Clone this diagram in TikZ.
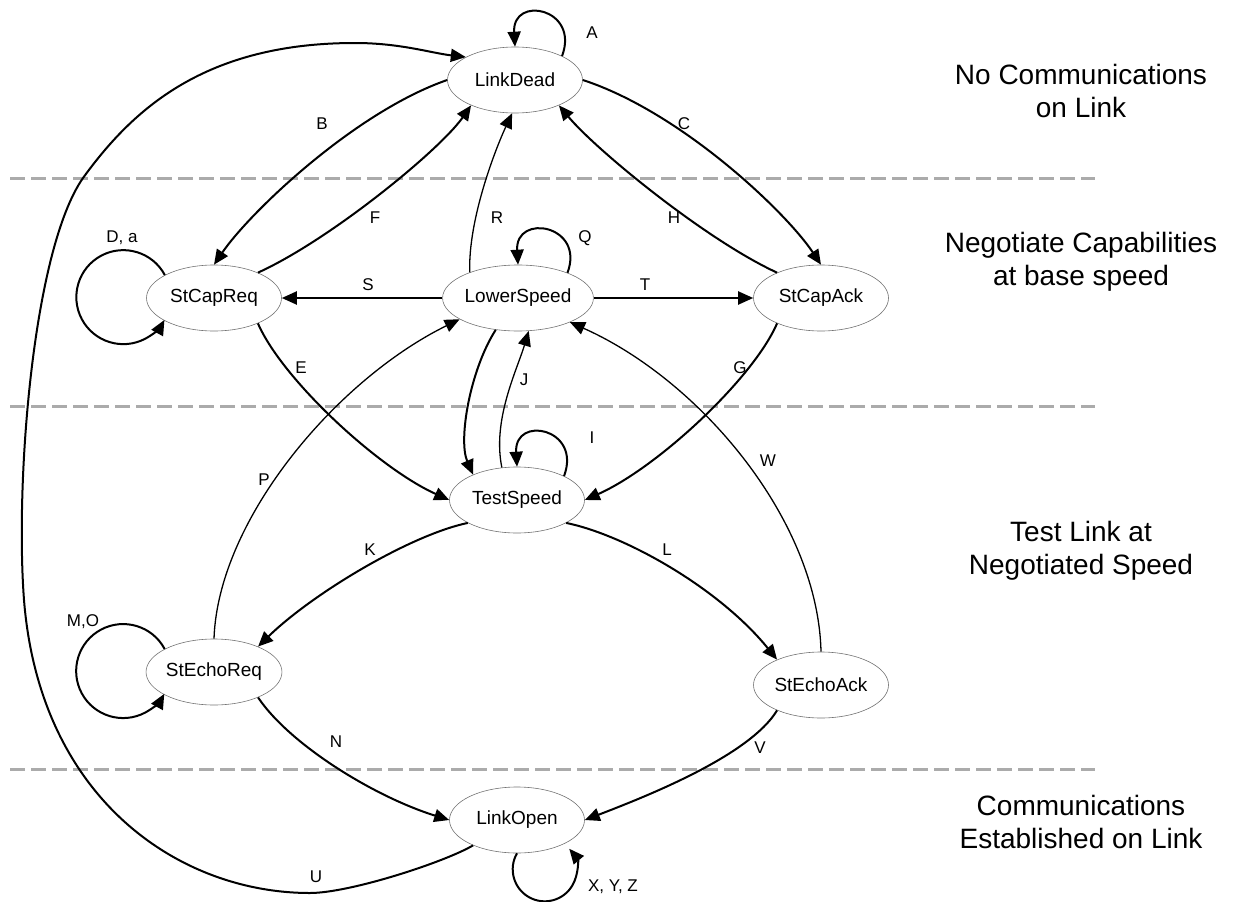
\documentclass[tikz,border=0pt]{standalone}
\usepackage{fontspec}
\setmainfont{Liberation Sans}
\usetikzlibrary{shapes.geometric,arrows.meta}
\begin{document}
\begin{tikzpicture}[x=1pt,y=1pt,
  state/.style={ellipse, draw=black!55, line width=0.6pt, minimum width=135pt, minimum height=66pt, inner sep=0pt, font=\fontsize{19}{22}\selectfont},
  tr/.style={line width=2pt, -{Triangle[length=15pt,width=13pt]}},
  trthin/.style={tr, line width=1.3pt},
  lbl/.style={font=\fontsize{17}{20}\selectfont, inner sep=0pt},
  zone/.style={font=\fontsize{28}{33}\selectfont, align=center, inner sep=0pt},
  sep/.style={draw=black!33, line width=3pt, dash pattern=on 15pt off 6pt}]
\useasboundingbox (0,0) rectangle (1237,-902);

% separators
\coordinate (s1a) at (10,-178); \coordinate (s1b) at (1095,-178);
\coordinate (s2a) at (10,-406); \coordinate (s2b) at (1095,-406);
\coordinate (s3a) at (10,-769); \coordinate (s3b) at (1095,-769);
\draw[sep] (s1a) -- (s1b);
\draw[sep] (s2a) -- (s2b);
\draw[sep] (s3a) -- (s3b);

% zone texts
\node[zone] (z1) at (1081,-91) {No Communications\\on Link};
\node[zone] (z2) at (1081,-262) {Negotiate Capabilities\\at base speed};
\node[zone] (z3) at (1081,-551) {Test Link at\\Negotiated Speed};
\node[zone] (z4) at (1081,-822) {Communications\\Established on Link};

% states
\node[state] (LD) at (515,-80) {LinkDead};
\node[state] (SCR) at (214,-298) {StCapReq};
\node[state] (LS) at (518,-298) {LowerSpeed};
\node[state] (SCA) at (821,-298) {StCapAck};
\node[state] (TS) at (517,-500) {TestSpeed};
\node[state] (SER) at (214,-672) {StEchoReq};
\node[state] (SEA) at (821,-685) {StEchoAck};
\node[state] (LO) at (517,-820) {LinkOpen};

% self loops
\draw[tr] (LD.27) .. controls +(18,48) and +(-3,52) .. (LD.north);
\draw[tr] (LS.27) .. controls +(18,48) and +(-3,52) .. (LS.north);
\draw[tr] (TS.27) .. controls +(18,48) and +(-3,52) .. (TS.north);
\draw[tr] (SCR.155) arc[start angle=28, end angle=331, radius=47pt];
\draw[tr] (SER.155) arc[start angle=28, end angle=331, radius=47pt];
\draw[tr] (LO.south) arc[start angle=150, end angle=400, radius=32pt];

% transitions
\draw[tr] (LD.west) .. controls (355,-112) and (250,-212) .. (SCR.north);
\draw[tr] (SCR.30) .. controls (330,-240) and (440,-150) .. (LD.210);
\draw[tr] (LD.east) .. controls (681,-112) and (786,-212) .. (SCA.north);
\draw[tr] (SCA.150) .. controls (706,-240) and (596,-150) .. (LD.330);
\draw[trthin] (LS.152) .. controls (468,-220) and (495,-150) .. (LD.265);
\draw[tr] (LS.west) -- (SCR.east);
\draw[tr] (LS.east) -- (SCA.west);
\draw[tr] (SCR.330) .. controls (282,-379) and (378,-468) .. (TS.west);
\draw[tr] (SCA.210) .. controls (753,-379) and (657,-468) .. (TS.east);
\draw[tr] (LS.235) .. controls (470,-370) and (458,-440) .. (TS.150);
\draw[trthin] (TS.115) .. controls (492,-420) and (517,-370) .. (LS.288);
\draw[trthin] (SER.north) .. controls (218,-520) and (336,-380) .. (LS.200);
\draw[trthin] (SEA.north) .. controls (818,-520) and (700,-380) .. (LS.335);
\draw[tr] (TS.205) .. controls (410,-535) and (312,-594) .. (SER.30);
\draw[tr] (TS.335) .. controls (625,-535) and (719,-588) .. (SEA.150);
\draw[tr] (SER.330) .. controls (290,-745) and (375,-797) .. (LO.west);
\draw[tr] (SEA.210) .. controls (750,-755) and (650,-795) .. (LO.east);
\draw[tr] (LO.210) .. controls (445,-862) and (350,-893) .. (310,-893)
  .. controls (180,-893) and (40,-800) .. (24,-600)
  .. controls (15,-480) and (33,-250) .. (83,-178)
  .. controls (133,-109) and (205,-43) .. (355,-43)
  .. controls (400,-43) and (431,-53) .. (LD.155);

% labels
\node[lbl] (lA) at (592,-33) {A};
\node[lbl] (lB) at (322,-124) {B};
\node[lbl] (lC) at (684,-124) {C};
\node[lbl] (lD) at (122,-238) {D, a};
\node[lbl] (lF) at (375,-218) {F};
\node[lbl] (lR) at (497,-218) {R};
\node[lbl] (lH) at (674,-218) {H};
\node[lbl] (lQ) at (585,-238) {Q};
\node[lbl] (lS) at (368,-285) {S};
\node[lbl] (lT) at (645,-285) {T};
\node[lbl] (lE) at (301,-368) {E};
\node[lbl] (lG) at (740,-368) {G};
\node[lbl] (lJ) at (524,-380) {J};
\node[lbl] (lI) at (592,-438) {I};
\node[lbl] (lP) at (264,-480) {P};
\node[lbl] (lW) at (768,-461) {W};
\node[lbl] (lK) at (370,-550) {K};
\node[lbl] (lL) at (667,-550) {L};
\node[lbl] (lM) at (83,-622) {M,O};
\node[lbl] (lN) at (336,-742) {N};
\node[lbl] (lV) at (760,-748) {V};
\node[lbl] (lU) at (316,-877) {U};
\node[lbl] (lX) at (613,-887) {X, Y, Z};
\end{tikzpicture}
\end{document}
